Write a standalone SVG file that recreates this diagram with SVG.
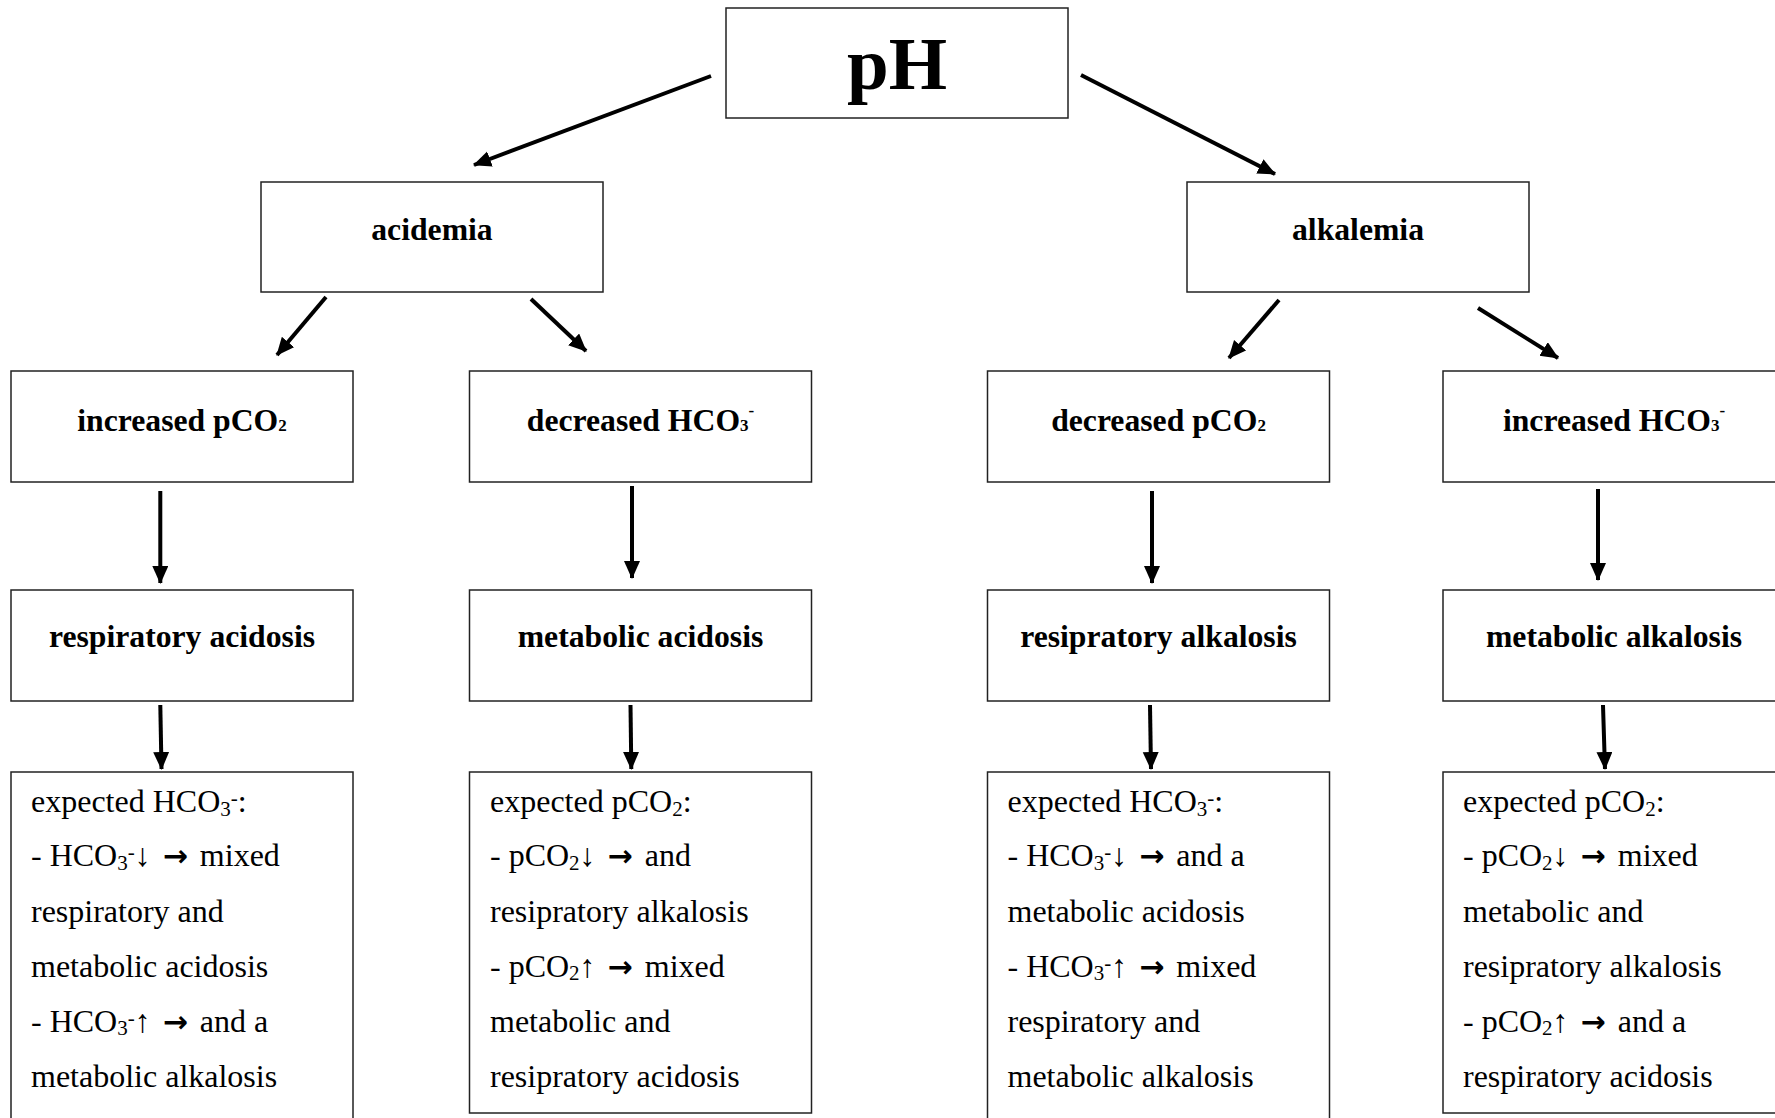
<svg xmlns="http://www.w3.org/2000/svg" width="1775" height="1118" viewBox="0 0 1775 1118">
<style>
.box{fill:#fff;stroke:#222;stroke-width:1.5}
.t{font-family:"Liberation Serif","Times New Roman",serif;font-weight:bold;font-size:31.7px;fill:#000;text-anchor:middle}
.b{font-family:"Liberation Serif","Times New Roman",serif;font-size:32px;fill:#000}
.ar{font-family:"DejaVu Sans",sans-serif;font-weight:bold;font-size:30px}
.c{stroke:#000;stroke-width:4;fill:none;marker-end:url(#ah)}
</style>
<defs>
<marker id="ah" markerUnits="userSpaceOnUse" markerWidth="20" markerHeight="18" refX="17" refY="8" orient="auto" viewBox="0 0 20 18">
<path d="M0,0 L18,8 L0,16 Z" fill="#000"/>
</marker>
</defs>
<rect width="1775" height="1118" fill="#fff"/>
<g id="connectors">
<line class="c" x1="711" y1="76" x2="474" y2="165"/>
<line class="c" x1="1081" y1="75" x2="1275" y2="174"/>
<line class="c" x1="326" y1="297" x2="277" y2="355"/>
<line class="c" x1="531" y1="299" x2="586" y2="351"/>
<line class="c" x1="1279" y1="300" x2="1229" y2="358"/>
<line class="c" x1="1478" y1="308" x2="1558" y2="358"/>
<line class="c" x1="160.3" y1="491" x2="160.3" y2="583"/>
<line class="c" x1="632" y1="486" x2="632" y2="578"/>
<line class="c" x1="1152" y1="491" x2="1152" y2="583"/>
<line class="c" x1="1598" y1="489" x2="1598" y2="580"/>
<line class="c" x1="160.3" y1="705" x2="161.5" y2="769"/>
<line class="c" x1="630.5" y1="705" x2="631.3" y2="769"/>
<line class="c" x1="1150" y1="705" x2="1151" y2="769"/>
<line class="c" x1="1603" y1="705" x2="1605" y2="769"/>
</g>
<g id="ph">
<rect class="box" x="726" y="8" width="342" height="110"/>
<text class="t" x="897" y="89" style="font-size:75px">pH</text>
</g>
<g id="acidemia">
<rect class="box" x="261" y="182" width="342" height="110"/>
<text class="t" x="432" y="240">acidemia</text>
</g>
<g id="alkalemia">
<rect class="box" x="1187" y="182" width="342" height="110"/>
<text class="t" x="1358" y="240">alkalemia</text>
</g>
<g id="inc-pco2">
<rect class="box" x="11" y="371" width="342" height="111"/>
<text class="t" x="182" y="431">increased pCO<tspan font-size="17">2</tspan></text>
</g>
<g id="dec-hco3">
<rect class="box" x="469.5" y="371" width="342" height="111"/>
<text class="t" x="640.5" y="431">decreased HCO<tspan font-size="17">3</tspan><tspan font-size="17" dy="-15">-</tspan></text>
</g>
<g id="dec-pco2">
<rect class="box" x="987.5" y="371" width="342" height="111"/>
<text class="t" x="1158.5" y="431">decreased pCO<tspan font-size="17">2</tspan></text>
</g>
<g id="inc-hco3">
<rect class="box" x="1443" y="371" width="342" height="111"/>
<text class="t" x="1614" y="431">increased HCO<tspan font-size="17">3</tspan><tspan font-size="17" dy="-15">-</tspan></text>
</g>
<g id="resp-acidosis">
<rect class="box" x="11" y="590" width="342" height="111"/>
<text class="t" x="182" y="647">respiratory acidosis</text>
</g>
<g id="met-acidosis">
<rect class="box" x="469.5" y="590" width="342" height="111"/>
<text class="t" x="640.5" y="647">metabolic acidosis</text>
</g>
<g id="resp-alkalosis">
<rect class="box" x="987.5" y="590" width="342" height="111"/>
<text class="t" x="1158.5" y="647">resipratory alkalosis</text>
</g>
<g id="met-alkalosis">
<rect class="box" x="1443" y="590" width="342" height="111"/>
<text class="t" x="1614" y="647">metabolic alkalosis</text>
</g>
<g id="exp-1">
<rect class="box" x="11" y="772" width="342" height="360"/>
<text class="b" x="31" y="812">expected HCO<tspan font-size="21" dy="3.5">3</tspan><tspan font-size="21" dy="-10.5">-</tspan><tspan dy="7">:</tspan></text>
<text class="b" x="31" y="866">- HCO<tspan font-size="21" dy="3.5">3</tspan><tspan font-size="21" dy="-10.5">-</tspan><tspan dy="7">↓ </tspan><tspan class="ar" dx="4">→</tspan><tspan dx="4"> mixed</tspan></text>
<text class="b" x="31" y="921.5">respiratory and</text>
<text class="b" x="31" y="976.5">metabolic acidosis</text>
<text class="b" x="31" y="1031.5">- HCO<tspan font-size="21" dy="3.5">3</tspan><tspan font-size="21" dy="-10.5">-</tspan><tspan dy="7">↑ </tspan><tspan class="ar" dx="4">→</tspan><tspan dx="4"> and a</tspan></text>
<text class="b" x="31" y="1086.5">metabolic alkalosis</text>
</g>
<g id="exp-2">
<rect class="box" x="469.5" y="772" width="342" height="341"/>
<text class="b" x="490" y="812">expected pCO<tspan font-size="21" dy="3.5">2</tspan><tspan dy="-3.5">:</tspan></text>
<text class="b" x="490" y="866">- pCO<tspan font-size="21" dy="3.5">2</tspan><tspan dy="-3.5">↓ </tspan><tspan class="ar" dx="4">→</tspan><tspan dx="4"> and</tspan></text>
<text class="b" x="490" y="921.5">resipratory alkalosis</text>
<text class="b" x="490" y="976.5">- pCO<tspan font-size="21" dy="3.5">2</tspan><tspan dy="-3.5">↑ </tspan><tspan class="ar" dx="4">→</tspan><tspan dx="4"> mixed</tspan></text>
<text class="b" x="490" y="1031.5">metabolic and</text>
<text class="b" x="490" y="1086.5">resipratory acidosis</text>
</g>
<g id="exp-3">
<rect class="box" x="987.5" y="772" width="342" height="360"/>
<text class="b" x="1007.5" y="812">expected HCO<tspan font-size="21" dy="3.5">3</tspan><tspan font-size="21" dy="-10.5">-</tspan><tspan dy="7">:</tspan></text>
<text class="b" x="1007.5" y="866">- HCO<tspan font-size="21" dy="3.5">3</tspan><tspan font-size="21" dy="-10.5">-</tspan><tspan dy="7">↓ </tspan><tspan class="ar" dx="4">→</tspan><tspan dx="4"> and a</tspan></text>
<text class="b" x="1007.5" y="921.5">metabolic acidosis</text>
<text class="b" x="1007.5" y="976.5">- HCO<tspan font-size="21" dy="3.5">3</tspan><tspan font-size="21" dy="-10.5">-</tspan><tspan dy="7">↑ </tspan><tspan class="ar" dx="4">→</tspan><tspan dx="4"> mixed</tspan></text>
<text class="b" x="1007.5" y="1031.5">respiratory and</text>
<text class="b" x="1007.5" y="1086.5">metabolic alkalosis</text>
</g>
<g id="exp-4">
<rect class="box" x="1443" y="772" width="342" height="341"/>
<text class="b" x="1463" y="812">expected pCO<tspan font-size="21" dy="3.5">2</tspan><tspan dy="-3.5">:</tspan></text>
<text class="b" x="1463" y="866">- pCO<tspan font-size="21" dy="3.5">2</tspan><tspan dy="-3.5">↓ </tspan><tspan class="ar" dx="4">→</tspan><tspan dx="4"> mixed</tspan></text>
<text class="b" x="1463" y="921.5">metabolic and</text>
<text class="b" x="1463" y="976.5">resipratory alkalosis</text>
<text class="b" x="1463" y="1031.5">- pCO<tspan font-size="21" dy="3.5">2</tspan><tspan dy="-3.5">↑ </tspan><tspan class="ar" dx="4">→</tspan><tspan dx="4"> and a</tspan></text>
<text class="b" x="1463" y="1086.5">respiratory acidosis</text>
</g>
</svg>
